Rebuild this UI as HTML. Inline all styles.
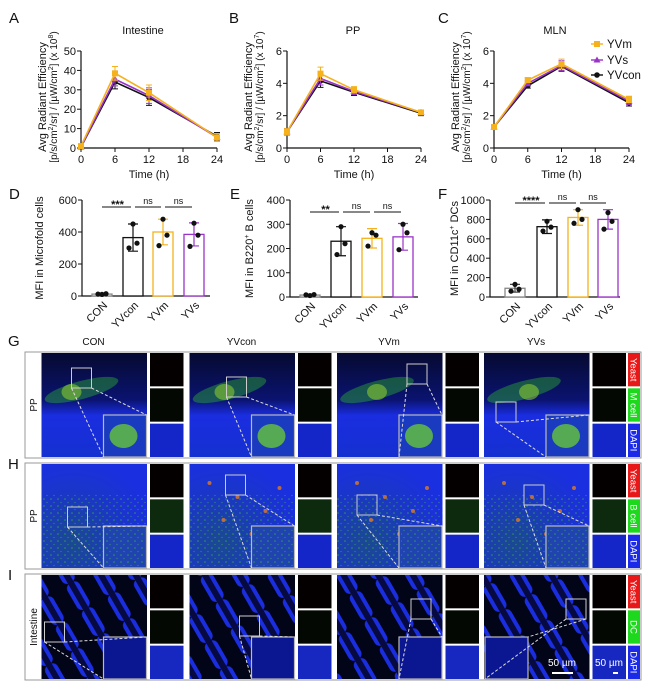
<!DOCTYPE html>
<html><head><meta charset="utf-8"><style>
html,body{margin:0;padding:0;background:#fff;width:650px;height:692px;overflow:hidden}
svg{display:block;font-family:"Liberation Sans",Arial,sans-serif}
</style></head><body>
<svg id="fig" width="650" height="692" viewBox="0 0 650 692" xmlns="http://www.w3.org/2000/svg">
<defs>
<linearGradient id="gG" x1="0" y1="0" x2="0" y2="1"><stop offset="0" stop-color="#060a30"/><stop offset="0.45" stop-color="#0a1370"/><stop offset="0.6" stop-color="#1a2de0"/><stop offset="1" stop-color="#1530d0"/></linearGradient>
<radialGradient id="gH" cx="0.3" cy="0.75" r="0.8"><stop offset="0" stop-color="#1a4a90"/><stop offset="0.6" stop-color="#1a36c8"/><stop offset="1" stop-color="#1a2fe0"/></radialGradient>
<pattern id="speck" width="7" height="7" patternUnits="userSpaceOnUse"><circle cx="2" cy="2" r="0.8" fill="#3cb83c" opacity="0.7"/><circle cx="5" cy="5.5" r="0.6" fill="#5ad04a" opacity="0.5"/></pattern>
<pattern id="villi" width="30" height="30" patternUnits="userSpaceOnUse" patternTransform="rotate(-30)"><rect width="30" height="30" fill="#020418"/><rect x="3" y="0" width="14" height="30" rx="6" fill="#1a2ee0"/><rect x="7" y="0" width="6" height="30" fill="#070a40"/></pattern>
</defs>
</svg>
<script>
// ---------- Line chart data ----------
const timePoints=[0,6,12,24];
const intYVm=[1,38.5,28.5,5.5], intYVs=[0.5,35.5,27,5.5], intYVcon=[0.5,34,26,6];
const intErr=[0.5,3.5,4,2];
const ppYVm=[1.0,4.6,3.6,2.2], ppYVs=[1.0,4.3,3.5,2.2], ppYVcon=[1.0,4.15,3.45,2.15];
const ppErr=[0.2,0.4,0.2,0.15];
const mlnYVm=[1.3,4.2,5.2,3.0], mlnYVs=[1.3,4.0,5.1,2.9], mlnYVcon=[1.3,3.85,5.05,2.8];
const mlnErr=[0.1,0.15,0.3,0.2];
const xTicks=[0,6,12,18,24];
const intTicks=[0,10,20,30,40,50], ppTicks=[0,2,4,6], mlnTicks=[0,2,4,6];
// ---------- Bar chart data ----------
const groups=["CON","YVcon","YVm","YVs"];
const mfMeans=[12,365,400,385];
const mfPts=[[10,14,12],[450,330,300],[480,380,315],[455,380,310]];
const mfErr=[4,85,80,72];
const bMeans=[8,230,242,248];
const bPts=[[6,10,9],[290,220,175],[265,255,210],[300,265,195]];
const bErr=[3,60,40,55];
const dcMeans=[90,725,820,800];
const dcPts=[[130,80,60],[780,720,680],[900,800,760],[870,780,700]];
const dcErr=[40,70,80,100];
const mfTicks=[0,200,400,600], bTicks=[0,100,200,300,400], dcTicks=[0,200,400,600,800,1000];

const NS="http://www.w3.org/2000/svg";
const svg=document.getElementById('fig');
function mk(tag,attrs,parent){const e=document.createElementNS(NS,tag);for(const k in attrs)e.setAttribute(k,attrs[k]);(parent||svg).appendChild(e);return e;}
function txt(x,y,s,size,anchor,parent,extra){const t=mk('text',Object.assign({x:x,y:y,'font-size':size,'text-anchor':anchor||'middle',fill:'#111'},extra||{}),parent);t.textContent=s;return t;}

const colors={YVm:'#f5b21c',YVs:'#9a34c8',YVcon:'#111111'};

function lineChart(cfg){
  const g=mk('g',{});
  
  
  const xs=v=>cfg.x0+(cfg.x1-cfg.x0)*v/24;
  const ys=v=>cfg.y0-(cfg.y0-cfg.yt)*v/cfg.ymax;
  const L=txt(cfg.letterX,23,cfg.letter,15,'start',g);
  
  
  const T=txt(cfg.titleX,34,cfg.title,11,'middle',g);
  
  
  const ax=mk('path',{d:`M${cfg.x0} ${cfg.yt}V${cfg.y0}H${cfg.x1}`,stroke:'#111','stroke-width':1.2,fill:'none'},g);
  
  
  cfg.yticks.forEach(v=>{mk('line',{x1:cfg.x0-4,x2:cfg.x0,y1:ys(v),y2:ys(v),stroke:'#111'},g);
    const t=txt(cfg.x0-5,ys(v)+4,String(v),11,'end',g);
    
    });
  xTicks.forEach(v=>{mk('line',{x1:xs(v),x2:xs(v),y1:cfg.y0,y2:cfg.y0+4,stroke:'#111'},g);
    const t=txt(xs(v),cfg.y0+15,String(v),11,'middle',g);
    
    });
  const xt=txt((cfg.x0+cfg.x1)/2,cfg.y0+30,'Time (h)',11,'middle',g);
  
  
  const cy=97;
  const y1=txt(0,0,'Avg Radiant Efficiency',11,'middle',g,{transform:`translate(${cfg.x0-35},${cy}) rotate(-90)`});
  
  
  const y2=mk('text',{x:0,y:0,'font-size':10,'text-anchor':'middle',fill:'#111',transform:`translate(${cfg.x0-24},${cy}) rotate(-90)`},g);
  y2.innerHTML=`[p/s/cm<tspan font-size="7" dy="-4">2</tspan><tspan dy="4">/sr] / [µW/cm</tspan><tspan font-size="7" dy="-4">2</tspan><tspan dy="4">] (x 10</tspan><tspan font-size="7" dy="-4">${cfg.exp}</tspan><tspan dy="4">)</tspan>`;
  
  
  [['YVcon',cfg.con],['YVs',cfg.s],['YVm',cfg.m]].forEach(([k,arr])=>{
    const c=colors[k];
    const p=mk('polyline',{points:arr.map((v,i)=>xs(timePoints[i])+','+ys(v)).join(' '),fill:'none',stroke:c,'stroke-width':1.6},g);
    
    
    arr.forEach((v,i)=>{
      const x=xs(timePoints[i]),y=ys(v),e=ys(v+cfg.err[i])-y;
      mk('path',{d:`M${x} ${y+e}V${y-e}M${x-3} ${y+e}h6M${x-3} ${y-e}h6`,stroke:c,'stroke-width':1},g);
      let m;
      if(k==='YVm') m=mk('rect',{x:x-3,y:y-3,width:6,height:6,fill:c},g);
      else if(k==='YVs') m=mk('path',{d:`M${x} ${y-3.5}L${x+3.5} ${y+2.5}L${x-3.5} ${y+2.5}Z`,fill:c},g);
      else m=mk('circle',{cx:x,cy:y,r:2.8,fill:c},g);
      
      
    });
  });
  return g;
}
lineChart({name:'chart-intestine',letter:'A',letterX:9,title:'Intestine',titleX:143,x0:81,x1:217,y0:148,yt:51,ymax:50,yticks:intTicks,exp:'8',m:intYVm,s:intYVs,con:intYVcon,err:intErr});
lineChart({name:'chart-pp',letter:'B',letterX:229,title:'PP',titleX:353,x0:287,x1:421,y0:148,yt:51,ymax:6,yticks:ppTicks,exp:'7',m:ppYVm,s:ppYVs,con:ppYVcon,err:ppErr});
lineChart({name:'chart-mln',letter:'C',letterX:438,title:'MLN',titleX:555,x0:494,x1:629,y0:148,yt:51,ymax:6,yticks:mlnTicks,exp:'7',m:mlnYVm,s:mlnYVs,con:mlnYVcon,err:mlnErr});
// legend
[['YVm',44],['YVs',60],['YVcon',75]].forEach(([k,y])=>{
  const c=colors[k];
  const lg=mk('g',{});
  
  
  mk('line',{x1:591,x2:603,y1:y,y2:y,stroke:c,'stroke-width':1.4},lg);
  if(k==='YVm') mk('rect',{x:594,y:y-3,width:6,height:6,fill:c},lg);
  else if(k==='YVs') mk('path',{d:`M597 ${y-3.5}L600.5 ${y+2.5}L593.5 ${y+2.5}Z`,fill:c},lg);
  else mk('circle',{cx:597,cy:y,r:2.8,fill:c},lg);
  txt(607,y+4,k,11.5,'start',lg);
});

function barChart(cfg){
  const g=mk('g',{});
  
  
  const ys=v=>cfg.y0-(cfg.y0-cfg.yt)*v/cfg.ymax;
  const L=txt(cfg.letterX,199,cfg.letter,15,'start',g);
  
  
  mk('path',{d:`M${cfg.ax} ${cfg.yt}V${cfg.y0}H${cfg.xend}`,stroke:'#111','stroke-width':1.2,fill:'none'},g);
  cfg.ticks.forEach(v=>{mk('line',{x1:cfg.ax-4,x2:cfg.ax,y1:ys(v),y2:ys(v),stroke:'#111'},g);
    const t=txt(cfg.ax-5,ys(v)+4,String(v),11,'end',g);
    
    });
  const yt=mk('text',{x:0,y:0,'font-size':11,'text-anchor':'middle',fill:'#111',transform:`translate(${cfg.ylx},${(cfg.y0+cfg.yt)/2}) rotate(-90)`},g);
  yt.innerHTML=cfg.ylabel;
  
  
  const bc=['#111','#111','#f5b21c','#9a34c8'];
  groups.forEach((gname,i)=>{
    const cx=cfg.centers[i],v=cfg.means[i],w=20;
    const b=mk('rect',{x:cx-w/2,y:ys(v),width:w,height:cfg.y0-ys(v),fill:'#fff',stroke:i===0?'#888':bc[i],'stroke-width':1.3},g);
    
    
    const e=cfg.err[i];
    mk('path',{d:`M${cx} ${ys(v)}V${ys(v+e)}M${cx-5} ${ys(v+e)}h10M${cx} ${ys(v)}V${ys(Math.max(0,v-e))}M${cx-5} ${ys(Math.max(0,v-e))}h10`,stroke:i===0?'#444':bc[i],'stroke-width':1.2},g);
    cfg.pts[i].forEach((p,j)=>{
      const d=mk('circle',{cx:cx+(j===0?0:(j===1?4:-4)),cy:ys(p),r:2.6,fill:'#111'},g);
      
      
    });
    const t=txt(0,0,gname,11,'end',g,{transform:`translate(${cx+6},${cfg.y0+10}) rotate(-45)`});
    
    
  });
  cfg.sig.forEach((s,k)=>{
    const a=cfg.centers[k],b=cfg.centers[k+1];
    mk('line',{x1:a+(k?2:0),x2:b-2,y1:cfg.sigY,y2:cfg.sigY,stroke:'#111','stroke-width':1.1},g);
    const t=txt((a+b)/2,cfg.sigY-(s==='ns'?3:-1),s,s==='ns'?9:11,'middle',g,{'font-weight':s==='ns'?'normal':'bold'});
    
    
  });
}
barChart({name:'chart-microfold',letter:'D',letterX:9,ax:82,xend:210,y0:296,yt:200,ymax:600,ticks:mfTicks,means:mfMeans,pts:mfPts,err:mfErr,centers:[102,133,163,194],sig:['***','ns','ns'],sigY:207,ylx:43,ylabel:'MFI in Microfold cells'});
barChart({name:'chart-b-cells',letter:'E',letterX:230,ax:290,xend:418,y0:297,yt:200,ymax:400,ticks:bTicks,means:bMeans,pts:bPts,err:bErr,centers:[310,341,372,403],sig:['**','ns','ns'],sigY:212,ylx:253,ylabel:'MFI in B220<tspan font-size="7" dy="-4">+</tspan><tspan dy="4"> B cells</tspan>'});
barChart({name:'chart-dc',letter:'F',letterX:438,ax:490,xend:620,y0:297,yt:200,ymax:1000,ticks:dcTicks,means:dcMeans,pts:dcPts,err:dcErr,centers:[515,547,578,608],sig:['****','ns','ns'],sigY:203,ylx:458,ylabel:'MFI in CD11c<tspan font-size="7" dy="-4">+</tspan><tspan dy="4"> DCs</tspan>'});

// ---------- Micrographs ----------
const colX=[41.5,189.5,337,484];
const rows=[{top:352,bot:458,letter:'G',side:'PP',mid:'M cell',fill:'url(#gG)'},
            {top:463,bot:569,letter:'H',side:'PP',mid:'B cell',fill:'url(#gH)'},
            {top:574,bot:680,letter:'I',side:'Intestine',mid:'DC',fill:'url(#villi)'}];
groups.forEach((gname,c)=>{const t=txt(colX[c]+52,345,gname,10,'middle');
  
  });
rows.forEach((r,ri)=>{
  const g=mk('g',{});
  
  
  const h=r.bot-r.top;
  txt(8,r.top+(ri===0?-6:6),r.letter,15,'start',g);
  mk('rect',{x:25,y:r.top,width:616,height:h,fill:'#fff',stroke:'#999','stroke-width':1},g);
  txt(0,0,r.side,10,'middle',g,{transform:`translate(37,${r.top+h/2}) rotate(-90)`});
  colX.forEach((x,c)=>{
    const img=mk('rect',{x:x,y:r.top+1,width:105.5,height:h-2,fill:r.fill},g);
    
    
    if(ri===0){
      mk('ellipse',{cx:x+40,cy:r.top+38,rx:38,ry:9,fill:'#30c030',opacity:0.4,transform:`rotate(-15 ${x+40} ${r.top+38})`},g);
      mk('ellipse',{cx:x+30+c*5,cy:r.top+40,rx:10,ry:8,fill:'#9ee02a',opacity:0.5},g);
    } else if(ri===1){
      mk('rect',{x:x,y:r.top+30,width:105.5,height:h-31,fill:'url(#speck)'},g);
      if(c>0){for(let k=0;k<6;k++)mk('circle',{cx:x+20+k*14,cy:r.top+20+((k*37)%60),r:2,fill:'#e07a20',opacity:0.8},g);}
    }
    const inX=(ri===2&&c===3)?x+1:x+62;
    const inset=mk('rect',{x:inX,y:r.bot-43,width:43,height:42,fill:ri===2?'#0b1790':(ri===0?'#1a3ac0':'#1f44b0'),stroke:'#bbb','stroke-width':1.2},g);
    
    
    if(ri===0) mk('ellipse',{cx:inX+20,cy:r.bot-22,rx:14,ry:12,fill:'#6cd030',opacity:0.75},g);
    if(ri===1) mk('rect',{x:inX+2,y:r.bot-41,width:39,height:38,fill:'url(#speck)'},g);
    const sbx=[[x+30,r.top+16],[x+37,r.top+25],[x+70,r.top+12],[x+12,r.top+50]][c];
    const sx=ri===1?[x+26,x+36,x+20,x+40][c]:(ri===2?[x+3,x+50,x+74,x+82][c]:sbx[0]);
    const sy=ri===1?[r.top+44,r.top+12,r.top+32,r.top+22][c]:(ri===2?[r.top+48,r.top+42,r.top+25,r.top+25][c]:sbx[1]);
    mk('rect',{x:sx,y:sy,width:20,height:20,fill:'none',stroke:'#ccc','stroke-width':1},g);
    mk('path',{d:`M${sx+20} ${sy+20}L${inX+43} ${r.bot-43}M${sx} ${sy+20}L${inX} ${r.bot-1}`,stroke:'#ddd','stroke-width':1,'stroke-dasharray':'3 2',fill:'none'},g);
    const tx=x+108.5,th=(h-6)/3;
    ['#050000',ri===1?'#0e2a0e':'#030803',ri===2?'#1628c0':'#1426c8'].forEach((f,k)=>{
      const t=mk('rect',{x:tx,y:r.top+1+k*(th+2),width:33.5,height:th,fill:f},g);
      
      
    });
  });
  const lx=628,th=(h-6)/3;
  [['Yeast','#e81818'],[r.mid,'#1ed81e'],['DAPI','#1a2ae8']].forEach(([s,f],k)=>{
    const y=r.top+1+k*(th+2);
    const b=mk('rect',{x:lx,y:y,width:12,height:th,fill:f},g);
    
    
    txt(0,0,s,9.5,'middle',g,{fill:'#fff',transform:`translate(${lx+2.5},${y+th/2}) rotate(90)`});
  });
});
txt(562,666,'50 µm',10,'middle',null,{fill:'#fff'});
mk('line',{x1:552,x2:573,y1:673,y2:673,stroke:'#fff','stroke-width':2});
txt(609,666,'50 µm',10,'middle',null,{fill:'#fff'});
mk('line',{x1:613,x2:618,y1:673,y2:673,stroke:'#fff','stroke-width':2});
</script>
</body></html>
